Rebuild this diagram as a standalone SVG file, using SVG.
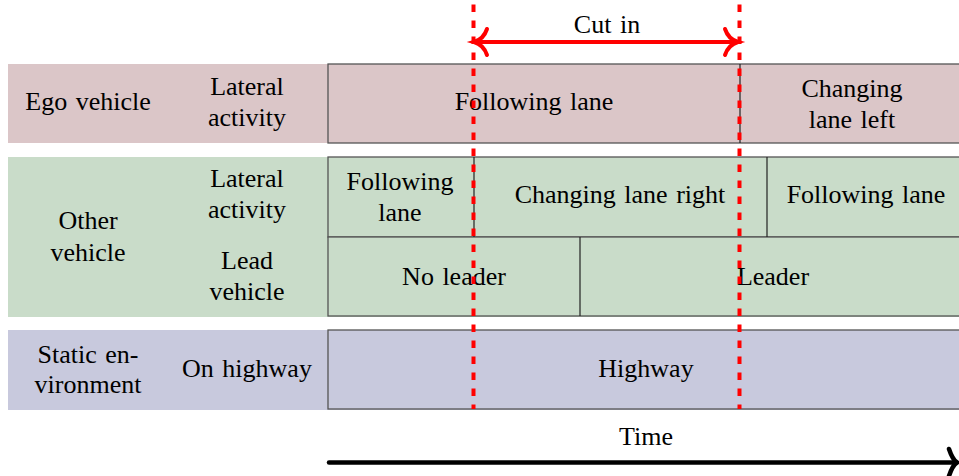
<svg xmlns="http://www.w3.org/2000/svg" width="959" height="476" viewBox="0 0 959 476">
<style>
text{font-family:"Liberation Serif","Times New Roman",serif;font-size:26px;fill:#000;text-anchor:middle;word-spacing:2px}
.box{stroke:#555;stroke-width:1.3}
.div{stroke:#222;stroke-width:1.2}
.ego{fill:#dbc6c8}
.oth{fill:#c9dcc9}
.sta{fill:#c8c9dd}
.cut{stroke:#ff0000;stroke-width:4;stroke-dasharray:7.5 8.5;fill:none}
.red{stroke:#ff0000;stroke-width:4;fill:none;stroke-linecap:round}
.blk{stroke:#000;stroke-width:4.5;fill:none;stroke-linecap:round}
</style>
<rect width="959" height="476" fill="#fff"/>
<g id="ego">
<rect class="ego" x="8" y="64" width="951" height="79"/>
<rect class="ego box" x="328" y="64" width="640" height="79"/>
<line class="div" x1="740" y1="64" x2="740" y2="143"/>
<text x="88" y="110">Ego vehicle</text>
<text x="247" y="95">Lateral</text>
<text x="247" y="126">activity</text>
<text x="534" y="110">Following lane</text>
<text x="852" y="97">Changing</text>
<text x="852" y="128">lane left</text>
</g>
<g id="other">
<rect class="oth" x="8" y="157" width="951" height="160"/>
<rect class="oth box" x="328" y="157" width="640" height="80"/>
<rect class="oth box" x="328" y="237" width="640" height="79"/>
<line class="div" x1="474" y1="157" x2="474" y2="237"/>
<line class="div" x1="767" y1="157" x2="767" y2="237"/>
<line class="div" x1="580" y1="237" x2="580" y2="316"/>
<text x="88" y="229">Other</text>
<text x="88" y="261">vehicle</text>
<text x="247" y="187">Lateral</text>
<text x="247" y="218">activity</text>
<text x="247" y="269">Lead</text>
<text x="247" y="300">vehicle</text>
<text x="400" y="190">Following</text>
<text x="400" y="221">lane</text>
<text x="620" y="203">Changing lane right</text>
<text x="866" y="203">Following lane</text>
<text x="454" y="285">No leader</text>
<text x="773" y="285">Leader</text>
</g>
<g id="static">
<rect class="sta" x="8" y="330" width="951" height="80"/>
<rect class="sta box" x="328" y="330" width="640" height="79"/>
<text x="88" y="363">Static en-</text>
<text x="88" y="393">vironment</text>
<text x="247" y="377">On highway</text>
<text x="646" y="377">Highway</text>
</g>
<g id="connectors">
<line class="cut" x1="473.5" y1="4.5" x2="473.5" y2="409"/>
<line class="cut" x1="739.5" y1="4.5" x2="739.5" y2="409"/>
<line class="red" x1="475" y1="42" x2="737" y2="42"/>
<path class="red" d="M487 29 C485 35 481 40 474 42 C481 44 485 49 487 55"/>
<path class="red" d="M725 29 C727 35 731 40 738 42 C731 44 727 49 725 55"/>
<line class="blk" x1="329" y1="462.5" x2="956" y2="462.5"/>
<path class="blk" d="M949 449 C951 455 953 460 957 462.5 C953 465 951 470 949 476"/>
</g>
<g id="labels">
<text x="607" y="33">Cut in</text>
<text x="646" y="445">Time</text>
</g>
</svg>
